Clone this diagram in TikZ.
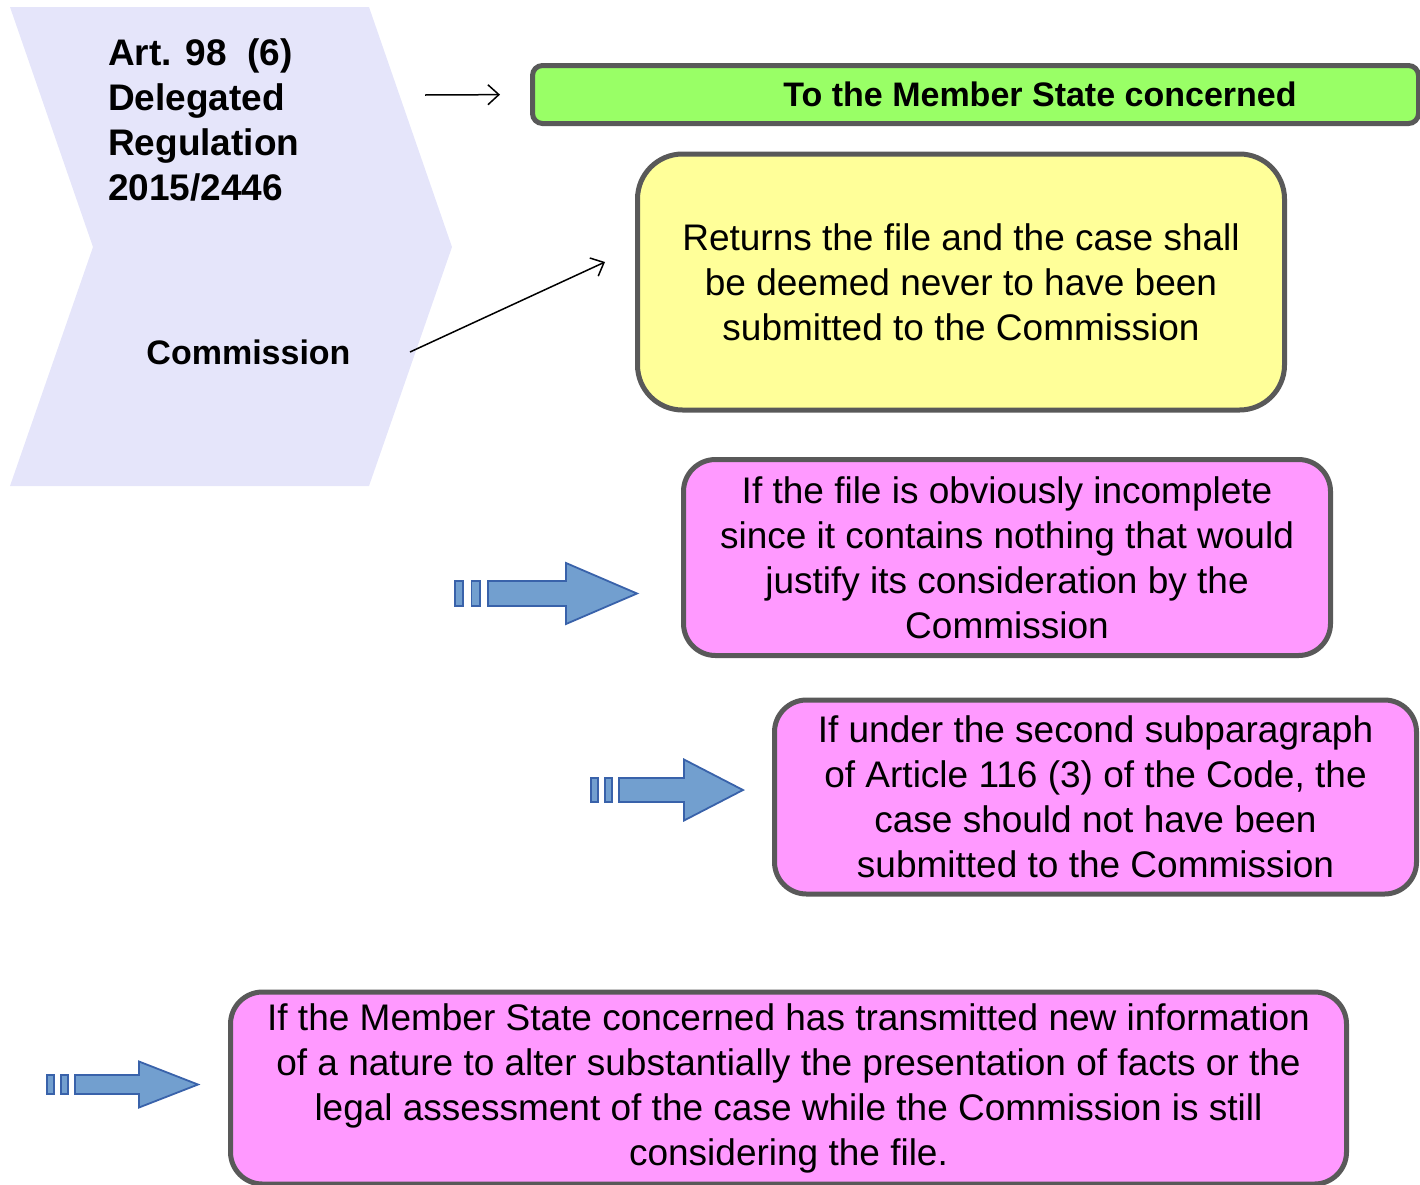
\documentclass[tikz,border=0pt]{standalone}
\usepackage{fontspec}
\setmainfont{Liberation Sans}
\usetikzlibrary{positioning,arrows.meta}
\definecolor{chev}{RGB}{229,229,250}
\definecolor{frame}{RGB}{89,89,89}
\definecolor{msgreen}{RGB}{153,255,102}
\definecolor{noteyel}{RGB}{255,255,153}
\definecolor{casepink}{RGB}{255,153,255}
\definecolor{arrfill}{RGB}{114,159,207}
\definecolor{arrline}{RGB}{57,98,170}
\tikzset{
  box/.style={draw=frame,line width=5pt,align=center,inner sep=2pt,font=\fontsize{37}{45}\selectfont},
  greenbox/.style={box,fill=msgreen,rounded corners=10pt,font=\fontsize{34}{45}\selectfont\bfseries},
  yelbox/.style={box,fill=noteyel,rounded corners=45pt},
  pinkbox/.style={box,fill=casepink,rounded corners=32pt},
  lbl/.style={font=\fontsize{34}{45}\selectfont\bfseries,inner sep=0pt},
  thinarrow/.style={line width=1.5pt,-{Straight Barb[length=11pt,width=20pt]}},
  blockarrow/.style={draw=arrline,fill=arrfill,line width=1.8pt,line join=miter},
}
% #1 name, #2 x of first bar, #3 y, #4 bar spacing, #5 head start, #6 tip, #7 half shaft, #8 half head
\newcommand{\bararrow}[8]{%
  \draw[blockarrow] (#2,#3-#7) rectangle (#2+#4/2,#3+#7);
  \draw[blockarrow] (#2+#4,#3-#7) rectangle (#2+1.5*#4,#3+#7);
  \draw[blockarrow] (#2+2*#4,#3-#7) -- (#5,#3-#7) -- (#5,#3-#8) -- (#6,#3)
    -- (#5,#3+#8) -- (#5,#3+#7) -- (#2+2*#4,#3+#7) -- cycle;
  \coordinate (#1) at (#6,#3);
}

\begin{document}
\begin{tikzpicture}[x=1pt,y=-1pt]
  \useasboundingbox (0,0) rectangle (1420,1184);
  % chevron on the left
  \fill[chev] (10,7) -- (369,7) -- (452,247) -- (369,486) -- (10,486) -- (93,247) -- cycle;
  \node[lbl,font=\fontsize{37}{45}\selectfont\bfseries,align=left,anchor=west] (art) at (108,119.5)
    {Art. 98~~(6)\\Delegated\\Regulation\\2015/2446};
  \node[lbl] (comm) at (248.5,352) {Commission};

  \node[greenbox,minimum width=886pt,minimum height=58pt] (ms) at (975.5,94.5)
    {\hspace*{129pt}To the Member State concerned};
  \node[yelbox,minimum width=647pt,minimum height=256pt] (ret) at (961,282)
    {Returns the file and the case shall\\be deemed never to have been\\submitted to the Commission};
  \node[pinkbox,minimum width=647pt,minimum height=196pt] (inc) at (1007,557.5)
    {If the file is obviously incomplete\\since it contains nothing that would\\justify its consideration by the\\Commission};
  \node[pinkbox,minimum width=642pt,minimum height=194pt] (sub) at (1095.5,797)
    {If under the second subparagraph\\of Article 116 (3) of the Code, the\\case should not have been\\submitted to the Commission};
  \node[pinkbox,minimum width=1116pt,minimum height=192pt] (newinfo) at (788.5,1088)
    {If the Member State concerned has transmitted new information\\of a nature to alter substantially the presentation of facts or the\\legal assessment of the case while the Commission is still\\considering the file.};

  \coordinate (a1) at (425,95);
  \draw[thinarrow,shorten >=30pt] (a1) -- (ms.west);
  \coordinate (a2s) at (410,352);
  \coordinate (a2e) at (605,262);
  \draw[thinarrow] (a2s) -- (a2e);

  \bararrow{arA}{455}{593.5}{16.5}{566}{637}{12.5}{30.5}
  \bararrow{arB}{591}{790}{14}{684}{743}{12}{30.5}
  \bararrow{arC}{47}{1084.5}{14}{139}{198}{9.5}{23}
\end{tikzpicture}
\end{document}
